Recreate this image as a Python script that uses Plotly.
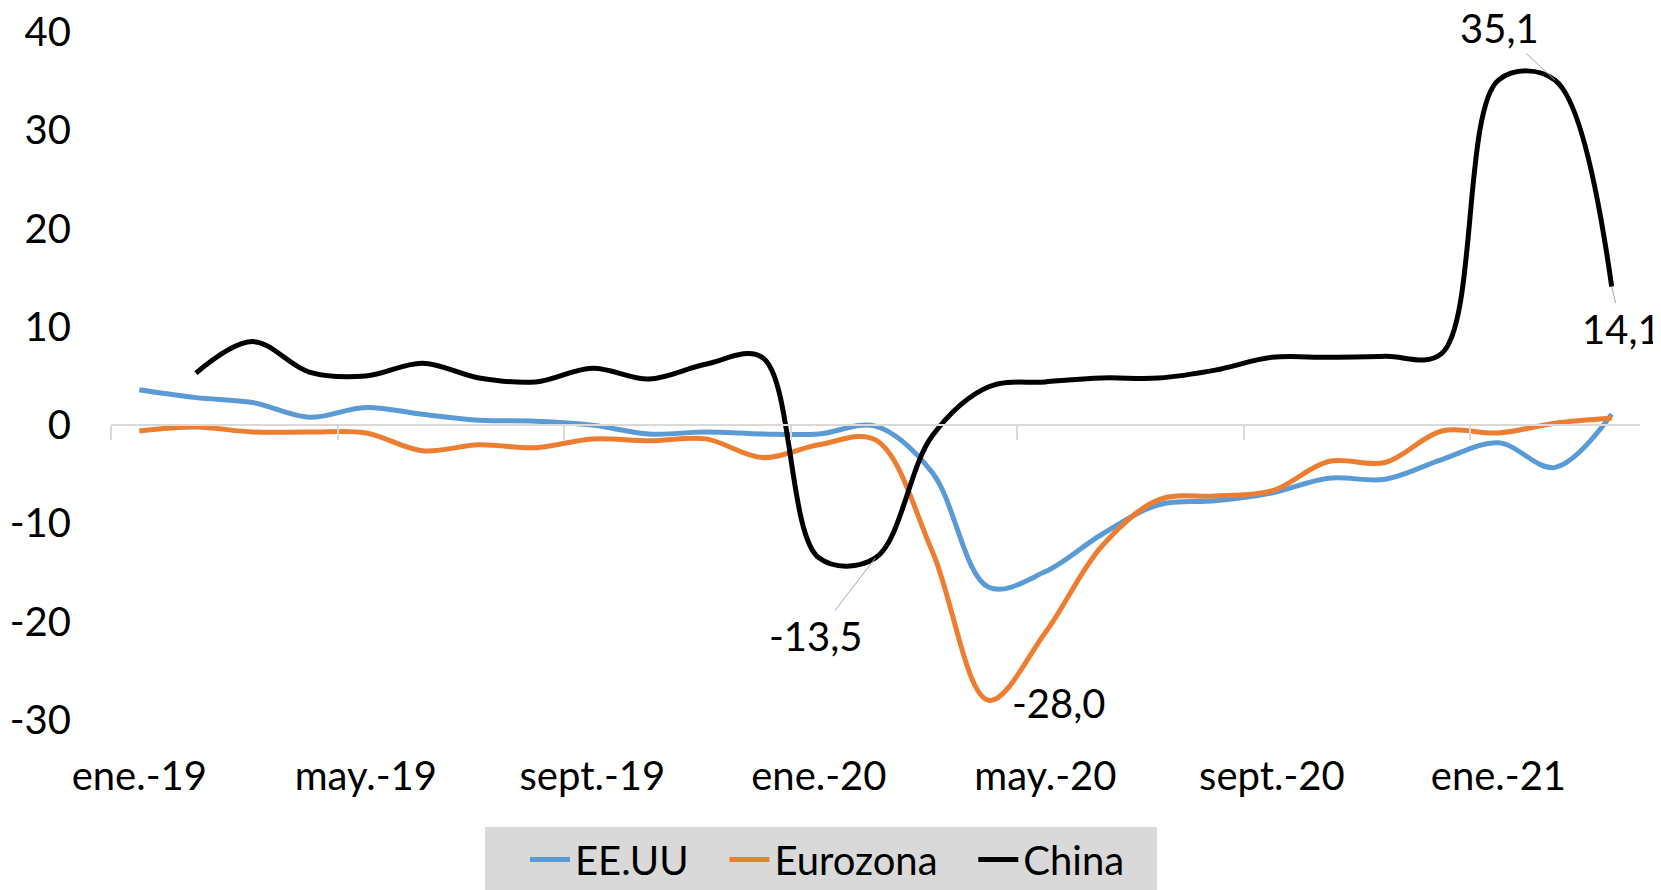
import plotly.graph_objects as go

meses = ["ene.-19", "feb.-19", "mar.-19", "abr.-19", "may.-19", "jun.-19", "jul.-19",
         "ago.-19", "sept.-19", "oct.-19", "nov.-19", "dic.-19", "ene.-20", "feb.-20",
         "mar.-20", "abr.-20", "may.-20", "jun.-20", "jul.-20", "ago.-20", "sept.-20",
         "oct.-20", "nov.-20", "dic.-20", "ene.-21", "feb.-21", "mar.-21"]

eeuu = [3.6, 2.8, 2.3, 0.8, 1.8, 1.1, 0.5, 0.4, 0.0, -0.9, -0.7, -0.9, -0.9, -0.1,
        -4.8, -16.5, -14.9, -11.1, -8.1, -7.7, -6.9, -5.4, -5.5, -3.5, -1.8, -4.3, 1.1]

eurozona = [-0.6, -0.2, -0.7, -0.7, -0.8, -2.6, -2.0, -2.3, -1.4, -1.6, -1.4, -3.3, -2.0, -1.5,
            -12.8, -28.0, -21.1, -12.3, -7.6, -7.2, -6.7, -3.7, -3.8, -0.6, -0.8, 0.2, 0.7]

china = [None, 5.3, 8.5, 5.4, 5.0, 6.3, 4.8, 4.4, 5.8, 4.7, 6.2, 6.9, -13.5, -13.5,
         -1.1, 3.9, 4.4, 4.8, 4.8, 5.6, 6.9, 6.9, 7.0, 7.3, 35.1, 35.1, 14.1]

ticks_y = [-30, -20, -10, 0, 10, 20, 30, 40]

idx = list(range(len(meses)))
fuente = "Lato"
tam = 40
esp = "\u00a0\u00a0\u00a0"

fig = go.Figure()
fig.add_trace(go.Scatter(x=idx, y=eeuu, name="EE.UU" + esp, mode="lines",
                         line=dict(color="#5B9BD5", width=5, shape="spline", smoothing=1)))
fig.add_trace(go.Scatter(x=idx, y=eurozona, name="Eurozona" + esp, mode="lines",
                         line=dict(color="#ED7D31", width=5, shape="spline", smoothing=1)))
fig.add_trace(go.Scatter(x=idx, y=china, name="China", mode="lines",
                         line=dict(color="#000000", width=5, shape="spline", smoothing=1)))
# traza vacia para que se dibuje el eje del cero
fig.add_trace(go.Scatter(x=[None], y=[None], xaxis="x2", showlegend=False, hoverinfo="skip"))

# etiquetas de datos
etiquetas = [(13, china[13], "-13,5", -60, 78, True),
             (15, eurozona[15], "-28,0", 70, -3, False),
             (25, china[25], "35,1", -56, -52, True),
             (26, china[26], "14,1", 10, 42, True)]
for x, y, txt, ax, ay, flecha in etiquetas:
    if flecha:
        fig.add_annotation(x=x, y=y, text=txt, showarrow=True, arrowhead=0, arrowwidth=1,
                           arrowcolor="#a6a6a6", ax=ax, ay=ay,
                           font=dict(family=fuente, size=tam, color="black"))
    else:
        fig.add_annotation(x=x, y=y, text=txt, showarrow=False, xshift=ax, yshift=ay,
                           font=dict(family=fuente, size=tam, color="black"))

# fondo gris de la leyenda
fig.add_shape(type="rect", xref="paper", yref="paper",
              x0=(485 - 111) / 1529, x1=(1157 - 111) / 1529,
              y0=(720 - 900) / 688, y1=(720 - 827) / 688,
              fillcolor="#d9d9d9", line=dict(width=0), layer="below")

# la pagina deja 8 px de margen, por eso 1653x882
fig.update_layout(
    width=1653, height=882,
    margin=dict(l=103, r=21, t=24, b=170),
    paper_bgcolor="white", plot_bgcolor="rgba(0,0,0,0)",
    font=dict(family=fuente, size=tam, color="black"),
    xaxis=dict(range=[-0.5, 26.5], tickvals=list(range(0, 27, 4)),
               ticktext=[meses[i] for i in range(0, 27, 4)],
               showgrid=False, zeroline=False, showline=False, ticks="",
               ticklabelstandoff=29, automargin=False),
    xaxis2=dict(range=[-0.5, 26.5], overlaying="x", anchor="free", position=3 / 7,
                tickvals=[i - 0.5 for i in range(0, 25, 4)], showticklabels=False,
                showline=True, linecolor="#d9d9d9", linewidth=1.5,
                ticks="outside", ticklen=14, tickcolor="#d9d9d9", tickwidth=1.5,
                showgrid=False, zeroline=False, automargin=False),
    yaxis=dict(range=[-30, 40], tickvals=ticks_y, ticktext=[str(v) for v in ticks_y],
               showgrid=False, zeroline=False, showline=False, ticks="",
               ticklabelstandoff=39, automargin=False, ticklabeloverflow="allow"),
    legend=dict(orientation="h", xanchor="left", x=(525 - 111) / 1529,
                yref="container", yanchor="top", y=(882 - 819) / 882,
                bgcolor="rgba(0,0,0,0)", font=dict(family=fuente, size=tam),
                itemwidth=40, tracegroupgap=0),
    showlegend=True,
)

fig.write_html("out.html")
